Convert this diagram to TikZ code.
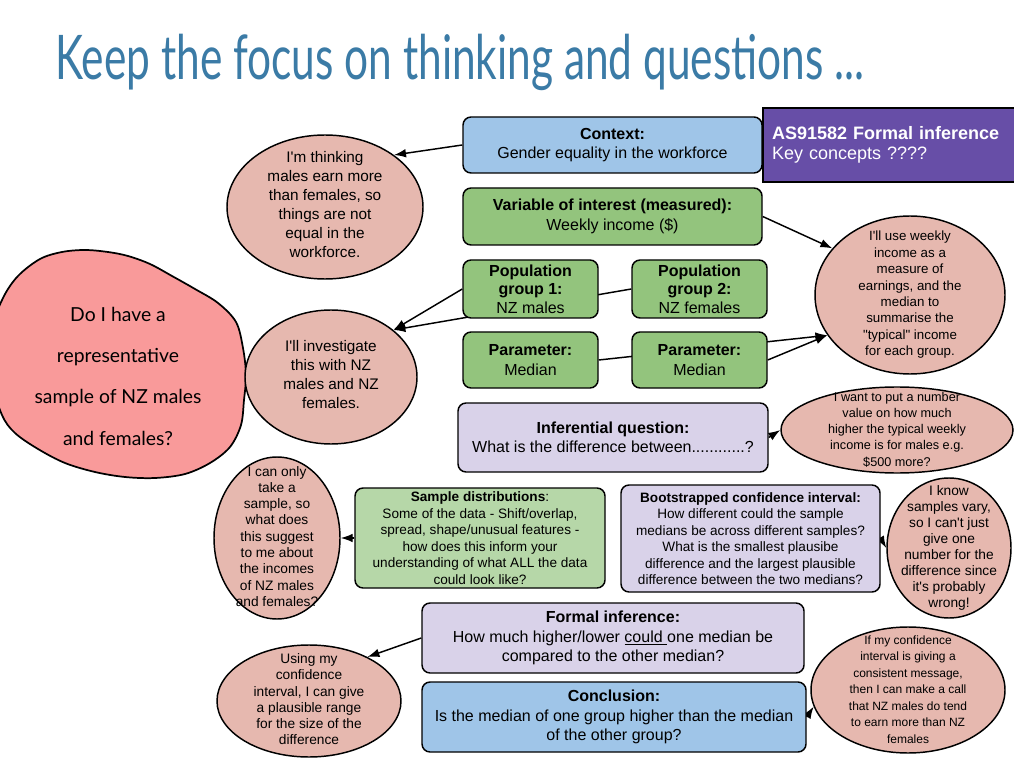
\documentclass[tikz,border=0pt]{standalone}
\usepackage{fontspec}
\setmainfont{Liberation Sans}
\newfontfamily\handfont{Lato}
\usetikzlibrary{arrows.meta,shapes.geometric,backgrounds}
\definecolor{ctxblue}{HTML}{9FC5E8}
\definecolor{vgreen}{HTML}{93C47D}
\definecolor{lgreen}{HTML}{B6D7A8}
\definecolor{lav}{HTML}{D9D2E9}
\definecolor{aspurple}{HTML}{674EA7}
\definecolor{bub}{HTML}{E6B8AF}
\definecolor{blobred}{HTML}{F99A9A}
\definecolor{titleblue}{HTML}{3B7BA6}
\newcommand\bubtext[1]{\makebox[0pt]{\smash{\raisebox{-2.5pt}{\begin{tabular}{@{}c@{}}#1\end{tabular}}}}}
\newcommand\ap{\textquotesingle}
\tikzset{
  box/.style={draw=black, line width=1.1pt, rounded corners=6pt, align=center, inner sep=2pt},
  bubble/.style={ellipse, draw=black, line width=1.1pt, fill=bub, inner sep=0pt},
  conn/.style={line width=1.1pt, -{Latex[length=9pt,width=6.5pt]}},
  big/.style={font=\fontsize{12}{14.6}\selectfont},
  mid/.style={font=\fontsize{10.2}{12.4}\selectfont}
}
\begin{document}
\begin{tikzpicture}[x=0.75pt,y=-0.75pt]
\useasboundingbox (0,0) rectangle (1014,759);
\clip (0,0) rectangle (1014,759);

% title
\node[anchor=base west, inner sep=0pt, text=titleblue] (title) at (55,80)
  {\resizebox{607pt}{34pt}{\handfont Keep the focus on thinking and questions ...}};

% blob
\filldraw[fill=blobred, draw=black, line width=1.3pt]
  plot[smooth cycle, tension=0.55] coordinates {(-8,330) (3,298) (18,276) (40,259) (62,252) (85,250) (108,252) (128,256) (150,264) (172,276) (195,289) (218,303) (236,322) (243,348) (246,375) (244,400) (241,425) (230,447) (210,463) (185,474) (155,478) (125,477) (95,472) (65,463) (38,449) (15,433) (2,415) (-8,380)};
\node[align=center, font=\handfont\fontsize{14.5}{31}\selectfont] (blobq) at (118,376)
  {Do I have a\\representative\\sample of NZ males\\and females?};

% boxes
\node[box, fill=ctxblue, big, minimum width=224.25pt, minimum height=42pt] (ctx) at (612.5,145)
  {\textbf{Context:}\\Gender equality in the workforce};
\node[draw=black, line width=2.2pt, fill=aspurple, text=white, align=left, inner xsep=6.75pt,
  text width=177.75pt, minimum height=55.5pt, font=\fontsize{13.5}{15}\selectfont] (as) at (890.5,145)
  {\textbf{AS91582 Formal inference}\\Key concepts ????};
\node[box, fill=vgreen, big, minimum width=224.25pt, minimum height=42.75pt] (var) at (612.5,216.5)
  {\textbf{Variable of interest (measured):}\\Weekly income (\$)};
\node[box, fill=vgreen, minimum width=101.25pt, minimum height=43.5pt, font=\fontsize{12}{13.9}\selectfont] (pop1) at (530.5,289)
  {\textbf{Population}\\\textbf{group 1:}\\NZ males};
\node[box, fill=vgreen, minimum width=101.25pt, minimum height=43.5pt, font=\fontsize{12}{13.9}\selectfont] (pop2) at (699.5,289)
  {\textbf{Population}\\\textbf{group 2:}\\NZ females};
\node[box, fill=vgreen, big, minimum width=101.25pt, minimum height=42pt] (par1) at (530.5,360)
  {\textbf{Parameter:}\\Median};
\node[box, fill=vgreen, big, minimum width=101.25pt, minimum height=42pt] (par2) at (699.5,360)
  {\textbf{Parameter:}\\Median};
\node[box, fill=lav, big, minimum width=232.5pt, minimum height=51.75pt] (infq) at (613,437.5)
  {\textbf{Inferential question:}\\What is the difference between............?};
\node[box, fill=lgreen, mid, minimum width=187.5pt, minimum height=75pt] (samp) at (480,538)
  {\textbf{Sample distributions}:\\Some of the data - Shift/overlap,\\spread, shape/unusual features -\\how does this inform your\\understanding of what ALL the data\\could look like?};
\node[box, fill=lav, mid, minimum width=194.25pt, minimum height=80.25pt] (boot) at (750.5,538.5)
  {\textbf{Bootstrapped confidence interval:}\\How different could the sample\\medians be across different samples?\\What is the smallest plausibe\\difference and the largest plausible\\difference between the two medians?};
\node[box, fill=lav, big, minimum width=286.5pt, minimum height=52.5pt] (formal) at (613,638)
  {\textbf{Formal inference:}\\How much higher/lower \underline{could }one median be\\compared to the other median?};
\node[box, fill=ctxblue, big, minimum width=288pt, minimum height=52.5pt] (concl) at (614,717)
  {\textbf{Conclusion:}\\Is the median of one group higher than the median\\of the other group?};

% bubbles
\node[bubble, minimum width=147pt, minimum height=108pt, font=\fontsize{11.5}{14.2}\selectfont] (A) at (325,207)
  {\bubtext{I\ap m thinking\\males earn more\\than females, so\\things are not\\equal in the\\workforce.}};
\node[bubble, minimum width=129pt, minimum height=100.5pt, font=\fontsize{11.5}{14.2}\selectfont] (B) at (331,377)
  {\bubtext{I\ap ll investigate\\this with NZ\\males and NZ\\females.}};
\node[bubble, minimum width=142.5pt, minimum height=118.5pt, font=\fontsize{10}{12.3}\selectfont] (C) at (910,295)
  {\bubtext{I\ap ll use weekly\\income as a\\measure of\\earnings, and the\\median to\\summarise the\\\textquotedbl typical\textquotedbl{} income\\for each group.}};
\node[bubble, minimum width=174pt, minimum height=64.5pt, font=\fontsize{9.5}{12.2}\selectfont] (D) at (897,430)
  {\bubtext{I want to put a number\\value on how much\\higher the typical weekly\\income is for males e.g.\\\$500 more?}};
\node[bubble, minimum width=94.5pt, minimum height=121.5pt, font=\fontsize{10.3}{12.2}\selectfont] (E) at (277,538)
  {\bubtext{I can only\\take a\\sample, so\\what does\\this suggest\\to me about\\the incomes\\of NZ males\\and females?}};
\node[bubble, minimum width=93pt, minimum height=105pt, font=\fontsize{10.3}{12}\selectfont] (F) at (949,548)
  {\bubtext{I know\\samples vary,\\so I can\ap t just\\give one\\number for the\\difference since\\it\ap s probably\\wrong!}};
\node[bubble, minimum width=138pt, minimum height=84pt, font=\fontsize{10.3}{12.2}\selectfont] (G) at (309,701)
  {\bubtext{Using my\\confidence\\interval, I can give\\a plausible range\\for the size of the\\difference}};
\node[bubble, minimum width=145.5pt, minimum height=94.5pt, font=\fontsize{9}{12.4}\selectfont] (H) at (908,690)
  {\bubtext{If my confidence\\interval is giving a\\consistent message,\\then I can make a call\\that NZ males do tend\\to earn more than NZ\\females}};

% connectors
\begin{pgfonlayer}{background}
\fill[white] (0,0) rectangle (1014,759);
\draw[conn] (ctx.west) -- (A.37);
\draw[conn] (var.east) -- (C.149);
\draw[conn] (pop1.west) -- (B.37);
\draw[conn] (pop2.west) -- (B.37);
\draw[conn] (par1.east) -- (C.206);
\draw[conn] (par2.east) -- (C.206);
\draw[conn] (infq.east) -- (D.west);
\draw[conn] (samp.west) -- (E.east);
\draw[conn] (boot.east) -- (F.west);
\draw[conn] (formal.west) -- (G.37);
\draw[conn] (concl.east) -- (H.190);
\end{pgfonlayer}
\end{tikzpicture}
\end{document}
